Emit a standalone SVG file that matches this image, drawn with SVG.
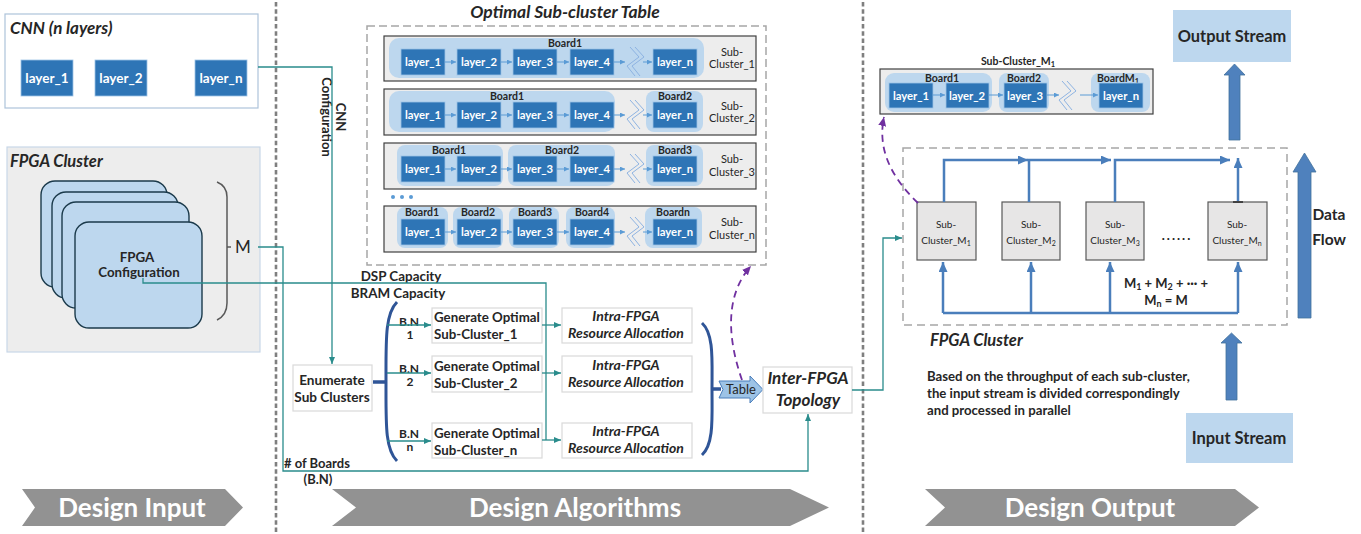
<svg xmlns="http://www.w3.org/2000/svg" width="1361" height="534" viewBox="0 0 1361 534">
  <style>
    text { font-family: Lato, "Liberation Sans", sans-serif; fill: #262626; }
    .b { font-weight: bold; }
    .bi { font-weight: bold; font-style: italic; }
    .lay { fill: #2e75b6; stroke: #9dc3e6; stroke-width: 0.8; }
    .lt { fill: #ffffff; font-weight: bold; font-size: 11.3px; text-anchor: middle; }
    .ltl { fill: #ffffff; font-weight: bold; font-size: 13.5px; text-anchor: middle; }
    .board { fill: #bdd7ee; }
    .row { fill: #ededed; stroke: #404040; stroke-width: 1.2; }
    .bl { font-size: 10.5px; font-weight: bold; text-anchor: middle; }
    .sc { font-size: 11px; text-anchor: middle; }
    .link { stroke: #5b9bd5; stroke-width: 1; fill: none; }
    .chev { stroke: #8db3e2; stroke-width: 1; fill: none; }
    .teal { stroke: #2a8c8c; stroke-width: 1.3; fill: none; }
    .flow { stroke: #4a7ebb; stroke-width: 2.5; fill: none; }
    .purp { stroke: #7030a0; stroke-width: 1.8; fill: none; stroke-dasharray: 7 5; }
    .sep { stroke: #7f7f7f; stroke-width: 2.6; stroke-dasharray: 4.5 2.8; }
    .box { fill: #ffffff; stroke: #d9d9d9; stroke-width: 1.2; }
    .blk { fill: #4f81bd; stroke: #41719c; stroke-width: 0.8; }
    .stream { fill: #bdd7ee; }
    .banner { fill: #929292; }
    .bt { fill: #ffffff; font-weight: bold; font-size: 26px; text-anchor: middle; }
    .sub { fill: #e7e6e6; stroke: #595959; stroke-width: 1.2; }
    .gen { font-weight: bold; font-size: 13.3px; }
    .intra { font-weight: bold; font-style: italic; font-size: 14px; text-anchor: middle; }
  </style>
  <defs>
    <marker id="arrT" markerUnits="userSpaceOnUse" markerWidth="7" markerHeight="6" refX="7" refY="3" orient="auto">
      <path d="M0,0 L7,3 L0,6 z" fill="#2a8c8c"/>
    </marker>
    <marker id="arrL" markerUnits="userSpaceOnUse" markerWidth="5" markerHeight="5" refX="5" refY="2.5" orient="auto">
      <path d="M0,0 L5,2.5 L0,5 z" fill="#5b9bd5"/>
    </marker>
    <marker id="arrB" markerUnits="userSpaceOnUse" markerWidth="10" markerHeight="9" refX="10" refY="4.5" orient="auto">
      <path d="M0,0 L10,4.5 L0,9 z" fill="#4a7ebb"/>
    </marker>
    <marker id="arrP" markerUnits="userSpaceOnUse" markerWidth="9" markerHeight="8" refX="9" refY="4" orient="auto">
      <path d="M0,0 L9,4 L0,8 z" fill="#7030a0"/>
    </marker>
    <!-- break symbol between layer_4 and layer_n -->
    <g id="brk">
      <polyline class="chev" points="-3,0 6,10 -6,19 2,29"/>
      <polyline class="chev" points="2,0 11,10 -1,19 7,29"/>
    </g>
  </defs>

  <!-- column separators -->
  <line class="sep" x1="276" y1="2" x2="276" y2="534"/>
  <line class="sep" x1="863" y1="2" x2="863" y2="534"/>

  <!-- ===== Design input ===== -->
  <g id="cnn">
    <rect x="5" y="14" width="253" height="94" fill="#ffffff" stroke="#adc3da" stroke-width="1.2"/>
    <text class="bi" x="10" y="34" font-size="17">CNN (n layers)</text>
    <rect class="lay" x="21" y="60" width="52" height="36"/>
    <text class="ltl" x="47" y="83">layer_1</text>
    <rect class="lay" x="95" y="60" width="52" height="36"/>
    <text class="ltl" x="121" y="83">layer_2</text>
    <rect class="lay" x="195" y="60" width="52" height="36"/>
    <text class="ltl" x="221" y="83">layer_n</text>
  </g>

  <g id="fpga-cluster-in">
    <rect x="7" y="147" width="253" height="205" fill="#ededed" stroke="#c9d7e8" stroke-width="1.2"/>
    <text class="bi" x="10" y="167" font-size="16.5">FPGA Cluster</text>
    <rect x="41" y="181" width="126" height="106" rx="14" fill="#bdd7ee" stroke="#1b3a4b" stroke-width="1.4"/>
    <rect x="52" y="192" width="126" height="106" rx="14" fill="#bdd7ee" stroke="#1b3a4b" stroke-width="1.4"/>
    <rect x="62" y="202" width="127" height="106" rx="14" fill="#bdd7ee" stroke="#1b3a4b" stroke-width="1.4"/>
    <rect x="75" y="222" width="127" height="106" rx="14" fill="#bdd7ee" stroke="#1b3a4b" stroke-width="1.4"/>
    <text class="b" x="137" y="262" font-size="13.3" text-anchor="middle">FPGA</text>
    <text class="b" x="139" y="277" font-size="13.3" text-anchor="middle">Configuration</text>
    <path d="M217,182 Q227,186 227,197 L227,303 Q227,315 217,320" fill="none" stroke="#595959" stroke-width="1.5"/>
    <line x1="227" y1="247" x2="231" y2="247" stroke="#595959" stroke-width="1.5"/>
    <text x="235" y="253" font-size="17">M</text>
  </g>

  <!-- ===== Design algorithms ===== -->
  <g id="table">
    <text class="bi" x="565" y="18" font-size="17.5" text-anchor="middle">Optimal Sub-cluster Table</text>
    <rect x="367" y="26" width="399" height="239" fill="#ffffff" stroke="#a6a6a6" stroke-width="1.5" stroke-dasharray="8 4"/>

    <!-- row 1 : one board -->
    <g id="row1">
      <rect class="row" x="384" y="36" width="372" height="45"/>
      <rect class="board" x="389" y="38" width="315" height="40" rx="10"/>
      <text class="bl" x="565" y="47">Board1</text>
      <rect class="lay" x="401" y="49" width="44" height="26"/><text class="lt" x="423" y="66">layer_1</text>
      <rect class="lay" x="457" y="49" width="44" height="26"/><text class="lt" x="479" y="66">layer_2</text>
      <rect class="lay" x="513" y="49" width="44" height="26"/><text class="lt" x="535" y="66">layer_3</text>
      <rect class="lay" x="570" y="49" width="44" height="26"/><text class="lt" x="592" y="66">layer_4</text>
      <rect class="lay" x="653" y="49" width="44" height="26"/><text class="lt" x="675" y="66">layer_n</text>
      <path class="link" d="M445,62 H456" marker-end="url(#arrL)"/>
      <path class="link" d="M501,62 H512" marker-end="url(#arrL)"/>
      <path class="link" d="M557,62 H569" marker-end="url(#arrL)"/>
      <path class="link" d="M614,62 H625" marker-end="url(#arrL)"/>
      <path class="link" d="M643,62 H652" marker-end="url(#arrL)"/>
      <use href="#brk" x="633" y="47"/>
      <text class="sc" x="732" y="56">Sub-</text>
      <text class="sc" x="732" y="68">Cluster_1</text>
    </g>

    <!-- row 2 : two boards -->
    <g id="row2">
      <rect class="row" x="384" y="89" width="372" height="46"/>
      <rect class="board" x="389" y="91" width="226" height="41" rx="10"/>
      <rect class="board" x="646" y="91" width="57" height="41" rx="8"/>
      <text class="bl" x="507" y="100">Board1</text>
      <text class="bl" x="675" y="100">Board2</text>
      <rect class="lay" x="401" y="102" width="44" height="26"/><text class="lt" x="423" y="119">layer_1</text>
      <rect class="lay" x="457" y="102" width="44" height="26"/><text class="lt" x="479" y="119">layer_2</text>
      <rect class="lay" x="513" y="102" width="44" height="26"/><text class="lt" x="535" y="119">layer_3</text>
      <rect class="lay" x="570" y="102" width="44" height="26"/><text class="lt" x="592" y="119">layer_4</text>
      <rect class="lay" x="653" y="102" width="44" height="26"/><text class="lt" x="675" y="119">layer_n</text>
      <path class="link" d="M445,115 H456" marker-end="url(#arrL)"/>
      <path class="link" d="M501,115 H512" marker-end="url(#arrL)"/>
      <path class="link" d="M557,115 H569" marker-end="url(#arrL)"/>
      <path class="link" d="M614,115 H625" marker-end="url(#arrL)"/>
      <path class="link" d="M643,115 H652" marker-end="url(#arrL)"/>
      <use href="#brk" x="633" y="100"/>
      <text class="sc" x="732" y="110">Sub-</text>
      <text class="sc" x="732" y="122">Cluster_2</text>
    </g>

    <!-- row 3 : three boards -->
    <g id="row3">
      <rect class="row" x="384" y="143" width="372" height="46"/>
      <rect class="board" x="397" y="145" width="106" height="41" rx="8"/>
      <rect class="board" x="508" y="145" width="107" height="41" rx="8"/>
      <rect class="board" x="646" y="145" width="57" height="41" rx="8"/>
      <text class="bl" x="449" y="154">Board1</text>
      <text class="bl" x="562" y="154">Board2</text>
      <text class="bl" x="675" y="154">Board3</text>
      <rect class="lay" x="401" y="156" width="44" height="26"/><text class="lt" x="423" y="173">layer_1</text>
      <rect class="lay" x="457" y="156" width="44" height="26"/><text class="lt" x="479" y="173">layer_2</text>
      <rect class="lay" x="513" y="156" width="44" height="26"/><text class="lt" x="535" y="173">layer_3</text>
      <rect class="lay" x="570" y="156" width="44" height="26"/><text class="lt" x="592" y="173">layer_4</text>
      <rect class="lay" x="653" y="156" width="44" height="26"/><text class="lt" x="675" y="173">layer_n</text>
      <path class="link" d="M445,169 H456" marker-end="url(#arrL)"/>
      <path class="link" d="M501,169 H512" marker-end="url(#arrL)"/>
      <path class="link" d="M557,169 H569" marker-end="url(#arrL)"/>
      <path class="link" d="M614,169 H625" marker-end="url(#arrL)"/>
      <path class="link" d="M643,169 H652" marker-end="url(#arrL)"/>
      <use href="#brk" x="633" y="154"/>
      <text class="sc" x="732" y="163">Sub-</text>
      <text class="sc" x="732" y="176">Cluster_3</text>
    </g>

    <g id="row-dots" fill="#5b9bd5">
      <circle cx="393" cy="197" r="2"/>
      <circle cx="402" cy="197" r="2"/>
      <circle cx="411" cy="197" r="2"/>
    </g>

    <!-- row n : one board per layer -->
    <g id="rown">
      <rect class="row" x="384" y="206" width="372" height="46"/>
      <rect class="board" x="397" y="207" width="51" height="41" rx="8"/>
      <rect class="board" x="453" y="207" width="50" height="41" rx="8"/>
      <rect class="board" x="509" y="207" width="50" height="41" rx="8"/>
      <rect class="board" x="566" y="207" width="49" height="41" rx="8"/>
      <rect class="board" x="645" y="207" width="57" height="41" rx="8"/>
      <text class="bl" x="422" y="216">Board1</text>
      <text class="bl" x="478" y="216">Board2</text>
      <text class="bl" x="535" y="216">Board3</text>
      <text class="bl" x="592" y="216">Board4</text>
      <text class="bl" x="673" y="216">Boardn</text>
      <rect class="lay" x="401" y="219" width="44" height="26"/><text class="lt" x="423" y="236">layer_1</text>
      <rect class="lay" x="457" y="219" width="44" height="26"/><text class="lt" x="479" y="236">layer_2</text>
      <rect class="lay" x="513" y="219" width="44" height="26"/><text class="lt" x="535" y="236">layer_3</text>
      <rect class="lay" x="570" y="219" width="44" height="26"/><text class="lt" x="592" y="236">layer_4</text>
      <rect class="lay" x="653" y="219" width="44" height="26"/><text class="lt" x="675" y="236">layer_n</text>
      <path class="link" d="M445,232 H456" marker-end="url(#arrL)"/>
      <path class="link" d="M501,232 H512" marker-end="url(#arrL)"/>
      <path class="link" d="M557,232 H569" marker-end="url(#arrL)"/>
      <path class="link" d="M614,232 H625" marker-end="url(#arrL)"/>
      <path class="link" d="M643,232 H652" marker-end="url(#arrL)"/>
      <use href="#brk" x="633" y="217"/>
      <text class="sc" x="732" y="226">Sub-</text>
      <text class="sc" x="732" y="239">Cluster_n</text>
    </g>
  </g>

  <g id="enumerate">
    <rect class="box" x="293" y="365" width="79" height="46"/>
    <text class="b" x="332" y="385" font-size="13.6" text-anchor="middle">Enumerate</text>
    <text class="b" x="332" y="402" font-size="13.6" text-anchor="middle">Sub Clusters</text>
  </g>

  <g id="generate-1">
    <rect class="box" x="432" y="308" width="110" height="35"/>
    <text class="gen" x="434" y="322">Generate Optimal</text>
    <text class="gen" x="434" y="339">Sub-Cluster_1</text>
  </g>
  <g id="generate-2">
    <rect class="box" x="432" y="356" width="110" height="36"/>
    <text class="gen" x="434" y="371">Generate Optimal</text>
    <text class="gen" x="434" y="388">Sub-Cluster_2</text>
  </g>
  <g id="generate-n">
    <rect class="box" x="432" y="423" width="110" height="35"/>
    <text class="gen" x="434" y="438">Generate Optimal</text>
    <text class="gen" x="434" y="455">Sub-Cluster_n</text>
  </g>

  <g id="intra-1">
    <rect class="box" x="562" y="308" width="130" height="35"/>
    <text class="intra" x="626" y="321">Intra-FPGA</text>
    <text class="intra" x="626" y="338">Resource Allocation</text>
  </g>
  <g id="intra-2">
    <rect class="box" x="562" y="356" width="130" height="36"/>
    <text class="intra" x="626" y="370">Intra-FPGA</text>
    <text class="intra" x="626" y="387">Resource Allocation</text>
  </g>
  <g id="intra-n">
    <rect class="box" x="562" y="423" width="130" height="35"/>
    <text class="intra" x="626" y="436">Intra-FPGA</text>
    <text class="intra" x="626" y="453">Resource Allocation</text>
  </g>

  <g id="braces" fill="none" stroke="#2f5597">
    <path d="M397,302 C385,314 386,340 386,382 C386,424 385,449 397,461" stroke-width="3"/>
    <line x1="373" y1="382" x2="386" y2="382" stroke-width="3.5"/>
    <path d="M702,323 C714,334 712,360 712,389 C712,418 714,444 702,455" stroke-width="3"/>
    <line x1="712" y1="389" x2="721" y2="389" stroke-width="3.5"/>
  </g>

  <g id="table-arrow">
    <polygon points="719,381 750,381 750,376 763,389.5 750,403 750,398 719,398 723,389.5" fill="#9dc3e6" stroke="#4a7ebb" stroke-width="1"/>
    <text x="741" y="394" font-size="13" text-anchor="middle">Table</text>
  </g>

  <g id="inter-fpga">
    <rect class="box" x="763" y="367" width="89" height="46"/>
    <text class="bi" x="808" y="384" font-size="17" text-anchor="middle">Inter-FPGA</text>
    <text class="bi" x="808" y="406" font-size="17" text-anchor="middle">Topology</text>
  </g>

  <g id="algo-labels">
    <text class="b" x="401" y="281" font-size="13.4" text-anchor="middle">DSP Capacity</text>
    <text class="b" x="398" y="298" font-size="13.4" text-anchor="middle">BRAM Capacity</text>
    <text class="b" x="409" y="326" font-size="12" text-anchor="middle">B.N</text>
    <text class="b" x="410" y="339" font-size="12" text-anchor="middle">1</text>
    <text class="b" x="409" y="373" font-size="12" text-anchor="middle">B.N</text>
    <text class="b" x="410" y="386" font-size="12" text-anchor="middle">2</text>
    <text class="b" x="409" y="438" font-size="12" text-anchor="middle">B.N</text>
    <text class="b" x="410" y="451" font-size="12" text-anchor="middle">n</text>
    <text class="b" x="284" y="468" font-size="13">#&#160;of Boards</text>
    <text class="b" x="318" y="484" font-size="13" text-anchor="middle">(B.N)</text>
    <g transform="translate(336,117) rotate(90)">
      <text class="b" x="0" y="0" font-size="13" text-anchor="middle">CNN</text>
      <text class="b" x="0" y="14" font-size="13" text-anchor="middle">Configuration</text>
    </g>
  </g>

  <!-- ===== Design output ===== -->
  <g id="subcluster-m1-detail">
    <text class="b" x="1018" y="65" font-size="10.5" text-anchor="middle">Sub-Cluster_M<tspan font-size="7.5" dy="2">1</tspan></text>
    <rect class="row" x="880" y="69" width="273" height="45"/>
    <rect class="board" x="885" y="73" width="107" height="39" rx="9"/>
    <rect class="board" x="999" y="73" width="50" height="39" rx="8"/>
    <rect class="board" x="1091" y="73" width="59" height="39" rx="8"/>
    <text class="bl" x="942" y="82">Board1</text>
    <text class="bl" x="1024" y="82">Board2</text>
    <text class="bl" x="1118" y="82">BoardM<tspan font-size="7.5" dy="2">1</tspan></text>
    <rect class="lay" x="889" y="83" width="44" height="25"/><text class="lt" x="911" y="100">layer_1</text>
    <rect class="lay" x="946" y="83" width="43" height="25"/><text class="lt" x="967" y="100">layer_2</text>
    <rect class="lay" x="1004" y="83" width="43" height="25"/><text class="lt" x="1025" y="100">layer_3</text>
    <rect class="lay" x="1099" y="83" width="44" height="25"/><text class="lt" x="1121" y="100">layer_n</text>
    <path class="link" d="M933,95 H945" marker-end="url(#arrL)"/>
    <path class="link" d="M989,95 H1003" marker-end="url(#arrL)"/>
    <path class="link" d="M1047,95 H1059" marker-end="url(#arrL)"/>
    <path class="link" d="M1080,95 H1098" marker-end="url(#arrL)"/>
    <use href="#brk" x="1065" y="81"/>
  </g>

  <g id="fpga-cluster-out">
    <rect x="903" y="148" width="384" height="177" fill="#ffffff" stroke="#a6a6a6" stroke-width="1.5" stroke-dasharray="8 5"/>
    <text class="bi" x="930" y="346" font-size="16.5">FPGA Cluster</text>
  </g>
  <g id="sub-m1">
    <rect class="sub" x="917" y="202" width="59" height="58"/>
    <text x="946" y="228" font-size="10" text-anchor="middle">Sub-</text>
    <text x="946" y="244" font-size="10" text-anchor="middle">Cluster_M<tspan font-size="7" dy="2">1</tspan></text>
  </g>
  <g id="sub-m2">
    <rect class="sub" x="1002" y="202" width="58" height="58"/>
    <text x="1031" y="228" font-size="10" text-anchor="middle">Sub-</text>
    <text x="1031" y="244" font-size="10" text-anchor="middle">Cluster_M<tspan font-size="7" dy="2">2</tspan></text>
  </g>
  <g id="sub-m3">
    <rect class="sub" x="1086" y="202" width="58" height="58"/>
    <text x="1115" y="228" font-size="10" text-anchor="middle">Sub-</text>
    <text x="1115" y="244" font-size="10" text-anchor="middle">Cluster_M<tspan font-size="7" dy="2">3</tspan></text>
  </g>
  <g id="sub-mn">
    <rect class="sub" x="1208" y="202" width="59" height="58"/>
    <text x="1237" y="228" font-size="10" text-anchor="middle">Sub-</text>
    <text x="1237" y="244" font-size="10" text-anchor="middle">Cluster_M<tspan font-size="7" dy="2">n</tspan></text>
  </g>
  <text class="b" x="1177" y="240" font-size="13" text-anchor="middle" letter-spacing="2">......</text>
  <text class="b" x="1166" y="288" font-size="13" text-anchor="middle">M<tspan font-size="9" dy="2">1</tspan><tspan dy="-2"> + M</tspan><tspan font-size="9" dy="2">2</tspan><tspan dy="-2"> + ··· +</tspan></text>
  <text class="b" x="1166" y="305" font-size="13" text-anchor="middle">M<tspan font-size="9" dy="2">n</tspan><tspan dy="-2"> = M</tspan></text>

  <text class="b" x="927" y="381" font-size="13.2">Based on the throughput of each sub-cluster,</text>
  <text class="b" x="927" y="398" font-size="13.2">the input stream is divided correspondingly</text>
  <text class="b" x="927" y="415" font-size="13.2">and processed in parallel</text>

  <g id="output-stream">
    <rect class="stream" x="1173" y="10" width="118" height="52"/>
    <text class="b" x="1232" y="42" font-size="16.4" text-anchor="middle">Output Stream</text>
  </g>
  <g id="input-stream">
    <rect class="stream" x="1186" y="413" width="107" height="50"/>
    <text class="b" x="1239" y="444" font-size="16.5" text-anchor="middle">Input Stream</text>
  </g>
  <g id="data-flow">
    <polygon class="blk" points="1298,318 1298,172 1293,172 1304.5,153 1316,172 1311,172 1311,318"/>
    <text class="b" x="1329" y="220" font-size="15.5" text-anchor="middle">Data</text>
    <text class="b" x="1329" y="245" font-size="15.5" text-anchor="middle">Flow</text>
  </g>
  <polygon class="blk" points="1229,140 1229,75 1224,75 1234.5,64 1245,75 1240,75 1240,140"/>
  <polygon class="blk" points="1226,400 1226,343 1221,343 1231.5,333 1242,343 1237,343 1237,400"/>

  <!-- connectors -->
  <g id="connectors">
    <path class="teal" d="M258,67 H332 V364" marker-end="url(#arrT)"/>
    <path class="teal" d="M143,278 V283 H546 V440"/>
    <path class="teal" d="M542,325 H561" marker-end="url(#arrT)"/>
    <path class="teal" d="M542,373 H561" marker-end="url(#arrT)"/>
    <path class="teal" d="M542,440 H561" marker-end="url(#arrT)"/>
    <path class="teal" d="M258,247 H283 V471 H808 V414" marker-end="url(#arrT)"/>
    <path class="teal" d="M387,325 H431" marker-end="url(#arrT)"/>
    <path class="teal" d="M387,373 H431" marker-end="url(#arrT)"/>
    <path class="teal" d="M387,441 H431" marker-end="url(#arrT)"/>
    <path class="teal" d="M852,390 H883 V238 H902" marker-end="url(#arrT)"/>

    <path class="purp" d="M742,380 C728,340 724,296 751,266" marker-end="url(#arrP)"/>
    <path class="purp" d="M918,203 C892,178 877,150 884,117" marker-end="url(#arrP)"/>

    <path class="flow" d="M944,202 V160 H1028" stroke-width="3" marker-end="url(#arrB)"/>
    <path class="flow" d="M1029,202 V160 H1111" marker-end="url(#arrB)"/>
    <path class="flow" d="M1115,202 V160 H1230" marker-end="url(#arrB)"/>
    <path class="flow" d="M1238,201 V158" marker-end="url(#arrB)"/>
    <line x1="1233" y1="202" x2="1243" y2="202" stroke="#262626" stroke-width="1.5"/>
    <path class="flow" d="M943,313 H1238" stroke-width="3"/>
    <path class="flow" d="M943,313 V262" stroke-width="3" marker-end="url(#arrB)"/>
    <path class="flow" d="M1031,313 V262" marker-end="url(#arrB)"/>
    <path class="flow" d="M1110,313 V262" marker-end="url(#arrB)"/>
    <path class="flow" d="M1238,313 V262" marker-end="url(#arrB)"/>
  </g>

  <!-- stage banners -->
  <g id="banner-input">
    <polygon class="banner" points="22,489 225,489 243,507.5 225,526 22,526 35,507.5"/>
    <text class="bt" x="132" y="517">Design Input</text>
  </g>
  <g id="banner-algorithms">
    <polygon class="banner" points="332,489 790,489 829,507.5 790,526 332,526 356,507.5"/>
    <text class="bt" x="575" y="517">Design Algorithms</text>
  </g>
  <g id="banner-output">
    <polygon class="banner" points="925,489 1235,489 1259,507.5 1235,526 925,526 945,507.5"/>
    <text class="bt" x="1090" y="517">Design Output</text>
  </g>
</svg>
